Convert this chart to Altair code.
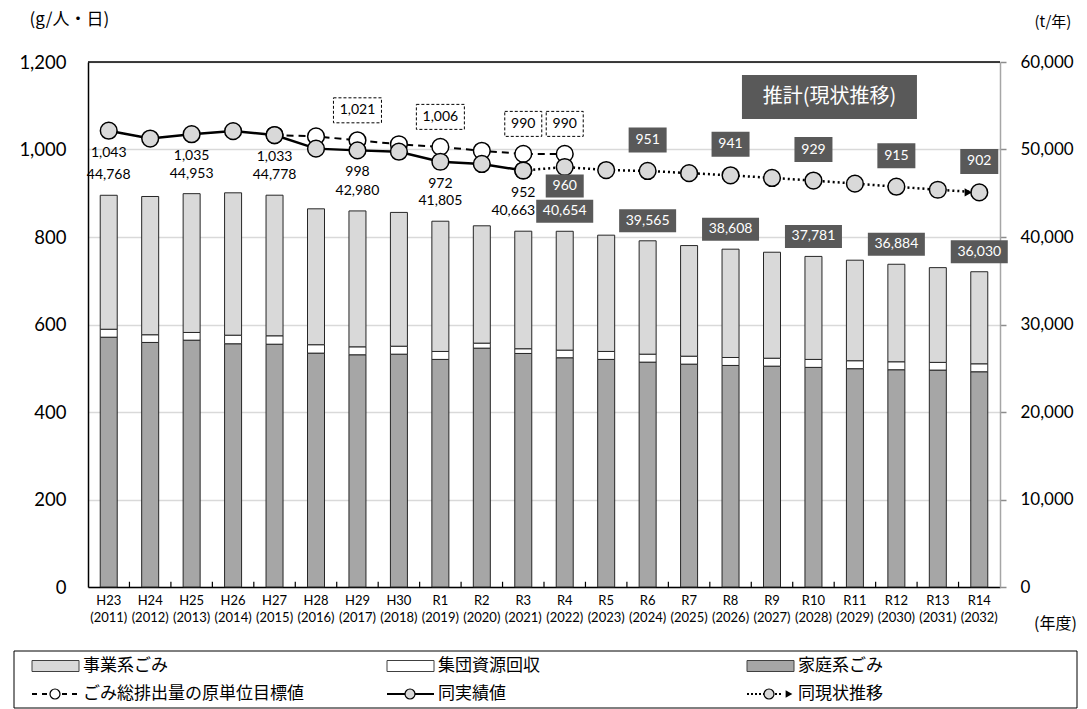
import altair as alt
import pandas as pd

# ---------------- data ----------------
years = ["H23", "H24", "H25", "H26", "H27", "H28", "H29", "H30", "R1", "R2", "R3",
         "R4", "R5", "R6", "R7", "R8", "R9", "R10", "R11", "R12", "R13", "R14"]
fiscal_years = [str(y) for y in range(2011, 2033)]

total_t = [44768, 44630, 44953, 45050, 44778, 43220, 42980, 42810, 41805, 41280, 40663,
           40654, 40210, 39565, 39020, 38608, 38260, 37781, 37350, 36884, 36500, 36030]
household_t = [28550, 27950, 28210, 27800, 27750, 26730, 26540, 26610, 26010, 27300, 26690,
               26200, 26010, 25700, 25470, 25320, 25240, 25100, 24950, 24830, 24790, 24600]
collection_t = [910, 880, 880, 980, 960, 960, 910, 910, 910, 570, 540,
                870, 910, 910, 910, 910, 910, 910, 910, 910, 880, 910]

actual_years = ["H23", "H24", "H25", "H26", "H27", "H28", "H29", "H30", "R1", "R2", "R3"]
actual_g = [1043, 1025, 1035, 1042, 1033, 1002, 998, 995, 972, 967, 952]

target_years = ["H27", "H28", "H29", "H30", "R1", "R2", "R3", "R4"]
target_g = [1033, 1030, 1021, 1012, 1006, 997, 990, 990]

proj_years = ["R3", "R4", "R5", "R6", "R7", "R8", "R9", "R10", "R11", "R12", "R13", "R14"]
proj_g = [952, 960, 953, 951, 946, 941, 935, 929, 922, 915, 908, 902]

actual_label_years = ["H23", "H25", "H27", "H29", "R1", "R3"]
actual_t_label_left = ["R3"]          # this tonnage label sits left of its bar
target_label_years = ["H29", "R1", "R3", "R4"]
proj_label_above = ["R6", "R8", "R10", "R12", "R14"]
proj_label_below = ["R4"]
proj_t_label_years = ["R4", "R6", "R8", "R10", "R12", "R14"]

kinds = ["家庭系ごみ", "集団資源回収", "事業系ごみ"]
kind_colors = ["#a6a6a6", "#ffffff", "#d9d9d9"]

annotation_text = "推計(現状推移)"
annotation_year = "R10"
annotation_g = 1120

legend_row1 = ["事業系ごみ", "集団資源回収", "家庭系ごみ"]
legend_row2 = ["ごみ総排出量の原単位目標値", "同実績値", "同現状推移"]

# ---------------- tables ----------------
cats = [f"{y} ({f})" for y, f in zip(years, fiscal_years)]
cat_of = dict(zip(years, cats))
tot_of = dict(zip(years, total_t))
business_t = [t - h - c for t, h, c in zip(total_t, household_t, collection_t)]

rows = []
for i, y in enumerate(years):
    for k, (kind, vals) in enumerate(zip(kinds, [household_t, collection_t, business_t])):
        rows.append({"cat": cat_of[y], "kind": kind, "t": vals[i], "ord": k})
bar_df = pd.DataFrame(rows)

actual_df = pd.DataFrame({"cat": [cat_of[y] for y in actual_years], "g": actual_g})
target_df = pd.DataFrame({"cat": [cat_of[y] for y in target_years], "g": target_g})
proj_df = pd.DataFrame({"cat": [cat_of[y] for y in proj_years], "g": proj_g})
act_of = dict(zip(actual_years, actual_g))
tgt_of = dict(zip(target_years, target_g))
prj_of = dict(zip(proj_years, proj_g))

act_lab = pd.DataFrame({
    "yr": actual_label_years,
    "cat": [cat_of[y] for y in actual_label_years],
    "g": [act_of[y] for y in actual_label_years],
    "t": [tot_of[y] for y in actual_label_years],
})
act_lab["gtxt"] = act_lab["g"].map(lambda v: f"{v:,}")
act_lab["ttxt"] = act_lab["t"].map(lambda v: f"{v:,}")
act_lab_c = act_lab[~act_lab["yr"].isin(actual_t_label_left)]
act_lab_l = act_lab[act_lab["yr"].isin(actual_t_label_left)]

tgt_lab = pd.DataFrame({
    "cat": [cat_of[y] for y in target_label_years],
    "g": [tgt_of[y] for y in target_label_years],
})
tgt_lab["gtxt"] = tgt_lab["g"].map(lambda v: f"{v:,}")
tgt_lab["wide"] = tgt_lab["g"] >= 1000

prj_above = pd.DataFrame({"cat": [cat_of[y] for y in proj_label_above],
                          "g": [prj_of[y] for y in proj_label_above]})
prj_below = pd.DataFrame({"cat": [cat_of[y] for y in proj_label_below],
                          "g": [prj_of[y] for y in proj_label_below]})
prj_t = pd.DataFrame({"cat": [cat_of[y] for y in proj_t_label_years],
                      "t": [tot_of[y] for y in proj_t_label_years]})
prj_t["ttxt"] = prj_t["t"].map(lambda v: f"{v:,}")

ann_df = pd.DataFrame({"cat": [cat_of[annotation_year]], "g": [annotation_g], "txt": [annotation_text]})
tick_df = pd.DataFrame({"cat": cats[1:], "g0": [0] * (len(cats) - 1), "g1": [12] * (len(cats) - 1)})
top_df = pd.DataFrame({"g": [1200]})

NUM_FONT = "Lato"
JP_FONT = "Noto Sans CJK JP"
DARK = "#595959"
W, H = 912, 525

# ---------------- encodings ----------------
x_axis = alt.Axis(
    title="(年度)", titleX=967, titleY=36, titleAngle=0, titleAlign="center",
    titleBaseline="middle", titleFont=JP_FONT, titleFontSize=16, titleFontWeight="normal",
    titleColor="black", labelExpr="split(datum.value, ' ')", labelAngle=0,
    labelFont=NUM_FONT, labelFontSize=13, labelColor="black", labelLineHeight=17,
    labelPadding=7, ticks=False, domainColor="black", domainWidth=1.5, grid=False,
)
x_scale = alt.Scale(domain=cats, paddingInner=0, paddingOuter=0)
X = alt.X("cat:N", scale=x_scale, axis=x_axis)

left_axis = alt.Axis(
    orient="left", title="(g/人・日)", titleAngle=0, titleX=-59, titleY=-43, titleAlign="left",
    titleBaseline="middle", titleFont=JP_FONT, titleFontSize=17, titleFontWeight="normal",
    titleColor="black", values=[0, 200, 400, 600, 800, 1000, 1200], format=",d",
    labelFont=NUM_FONT, labelFontSize=18.5, labelColor="black", labelPadding=22, ticks=False,
    domainColor="black", domainWidth=1.5, grid=True, gridColor="#d9d9d9", gridWidth=1.5,
)
g_scale = alt.Scale(domain=[0, 1200], nice=False, zero=True)
YL = alt.Y("g:Q", scale=g_scale, axis=left_axis)

right_axis = alt.Axis(
    orient="right", title="(t/年)", titleAngle=0, titleX=34, titleY=-41, titleAlign="left",
    titleBaseline="middle", titleFont=JP_FONT, titleFontSize=15, titleFontWeight="normal",
    titleColor="black", values=[0, 10000, 20000, 30000, 40000, 50000, 60000], format=",d",
    labelFont=NUM_FONT, labelFontSize=17, labelColor="black", labelPadding=14,
    tickSize=6, tickColor="#8c8c8c", tickWidth=1.5, domainColor="#a6a6a6", domainWidth=1.5,
    grid=False,
)
t_scale = alt.Scale(domain=[0, 60000], nice=False, zero=True)
YR = alt.Y("t:Q", scale=t_scale, axis=right_axis)

# ---------------- right (t/year) layers ----------------
bars = alt.Chart(bar_df).mark_bar(size=17, stroke="#262626", strokeWidth=1).encode(
    x=X,
    y=alt.Y("t:Q", stack="zero", scale=t_scale, axis=right_axis),
    color=alt.Color("kind:N", scale=alt.Scale(domain=kinds, range=kind_colors), legend=None),
    order=alt.Order("ord:Q"),
)
act_t_text = alt.Chart(act_lab_c).mark_text(
    font=NUM_FONT, fontSize=14, color="black", dy=-20, baseline="middle"
).encode(x=X, y=YR, text="ttxt:N")
act_t_text_l = alt.Chart(act_lab_l).mark_text(
    font=NUM_FONT, fontSize=14, color="black", dy=-20, dx=-10, baseline="middle"
).encode(x=X, y=YR, text="ttxt:N")
prj_t_box = alt.Chart(prj_t).mark_rect(width=57, height=23, yOffset=-20, fill=DARK).encode(x=X, y=YR)
prj_t_text = alt.Chart(prj_t).mark_text(
    font=NUM_FONT, fontSize=14, color="white", dy=-20, baseline="middle"
).encode(x=X, y=YR, text="ttxt:N")

right_layer = alt.layer(bars, act_t_text, act_t_text_l, prj_t_box, prj_t_text)

# ---------------- left (g/person/day) layers ----------------
xticks = alt.Chart(tick_df).mark_rule(color="black", strokeWidth=1.2).encode(
    x=alt.X("cat:N", scale=x_scale, axis=x_axis, bandPosition=0),
    y=alt.Y("g0:Q", scale=g_scale, axis=left_axis), y2="g1:Q",
)
top_rule = alt.Chart(top_df).mark_rule(color="black", strokeWidth=1.5).encode(
    y=YL, x=alt.value(0), x2=alt.value(W)
)
target_line = alt.Chart(target_df).mark_line(
    color="black", strokeWidth=2, strokeDash=[7, 5]).encode(x=X, y=YL)
actual_line = alt.Chart(actual_df).mark_line(color="black", strokeWidth=2.5).encode(x=X, y=YL)
proj_line = alt.Chart(proj_df).mark_line(
    color="black", strokeWidth=2.5, strokeDash=[2, 3]).encode(x=X, y=YL)

PT = 280
target_pts = alt.Chart(target_df).mark_point(
    shape="circle", size=PT, filled=True, fill="white", stroke="black", strokeWidth=1.5, opacity=1
).encode(x=X, y=YL)
actual_pts = alt.Chart(actual_df).mark_point(
    shape="circle", size=PT, filled=True, fill="#d9d9d9", stroke="black", strokeWidth=1.5, opacity=1
).encode(x=X, y=YL)
proj_pts = alt.Chart(proj_df).mark_point(
    shape="circle", size=PT, filled=True, fill="#d9d9d9", stroke="black", strokeWidth=1.5, opacity=1
).encode(x=X, y=YL)
arrow = alt.Chart(proj_df.tail(1)).mark_point(
    shape="triangle-right", size=70, filled=True, color="black", xOffset=-11, opacity=1
).encode(x=X, y=YL)

act_g_text = alt.Chart(act_lab).mark_text(
    font=NUM_FONT, fontSize=14, color="black", dy=22, baseline="middle"
).encode(x=X, y=YL, text="gtxt:N")

tgt_box_wide = alt.Chart(tgt_lab[tgt_lab["wide"]]).mark_rect(
    width=48, height=25, yOffset=-30, fill="white", stroke="black", strokeWidth=1, strokeDash=[3, 2]
).encode(x=X, y=YL)
tgt_box_narrow = alt.Chart(tgt_lab[~tgt_lab["wide"]]).mark_rect(
    width=37, height=25, yOffset=-30, fill="white", stroke="black", strokeWidth=1, strokeDash=[3, 2]
).encode(x=X, y=YL)
tgt_text = alt.Chart(tgt_lab).mark_text(
    font=NUM_FONT, fontSize=14, color="black", dy=-30, baseline="middle"
).encode(x=X, y=YL, text="gtxt:N")

prj_box_above = alt.Chart(prj_above).mark_rect(width=38, height=25, yOffset=-31, fill=DARK).encode(x=X, y=YL)
prj_text_above = alt.Chart(prj_above).mark_text(
    font=NUM_FONT, fontSize=14, color="white", dy=-31, baseline="middle"
).encode(x=X, y=YL, text="g:Q")
prj_box_below = alt.Chart(prj_below).mark_rect(width=38, height=23, yOffset=19, fill=DARK).encode(x=X, y=YL)
prj_text_below = alt.Chart(prj_below).mark_text(
    font=NUM_FONT, fontSize=14, color="white", dy=19, baseline="middle"
).encode(x=X, y=YL, text="g:Q")

ann_box = alt.Chart(ann_df).mark_rect(width=175, height=44, xOffset=16, fill=DARK).encode(x=X, y=YL)
ann_text = alt.Chart(ann_df).mark_text(
    font=JP_FONT, fontSize=20, color="white", dx=16, baseline="middle"
).encode(x=X, y=YL, text="txt:N")

left_layer = alt.layer(
    xticks, top_rule, target_line, actual_line, proj_line,
    target_pts, actual_pts, proj_pts, arrow,
    act_g_text, tgt_box_wide, tgt_box_narrow, tgt_text,
    prj_box_above, prj_text_above, prj_box_below, prj_text_below,
    ann_box, ann_text,
)

main = alt.layer(right_layer, left_layer).resolve_scale(y="independent").properties(
    width=W, height=H, view=alt.ViewBackground(stroke="transparent")
)

# ---------------- legend panel (layout in px relative to plot origin) ----------------
LH = 57
box_x = [-74, 989]
col_x = [-56, 299, 659]
row_y = [15, 43]

lx = alt.Scale(domain=[0, W], range=[0, W], nice=False, zero=False)
ly = alt.Scale(domain=[0, LH], range=[0, LH], nice=False, zero=False)
LX = alt.X("x:Q", scale=lx, axis=None)
LY = alt.Y("y:Q", scale=ly, axis=None)

box_df = pd.DataFrame({"x": [box_x[0]], "x2": [box_x[1]], "y": [0], "y2": [LH]})
leg_box = alt.Chart(box_df).mark_rect(fill="white", stroke="black", strokeWidth=1).encode(
    x=LX, x2="x2:Q", y=LY, y2="y2:Q")

sw_df = pd.DataFrame({"x": col_x, "kind": legend_row1})
sw_df["x2"] = sw_df["x"] + 47
sw_df["y"] = row_y[0] - 5.5
sw_df["y2"] = row_y[0] + 5.5
leg_sw = alt.Chart(sw_df).mark_rect(stroke="#404040", strokeWidth=1).encode(
    x=LX, x2="x2:Q", y=LY, y2="y2:Q",
    color=alt.Color("kind:N", scale=alt.Scale(domain=kinds, range=kind_colors), legend=None),
)
txt_df = pd.DataFrame({
    "x": [c + 51 for c in col_x] * 2,
    "y": [row_y[0]] * 3 + [row_y[1]] * 3,
    "label": legend_row1 + legend_row2,
})
leg_txt = alt.Chart(txt_df).mark_text(
    font=JP_FONT, fontSize=17, color="black", align="left", baseline="middle"
).encode(x=LX, y=LY, text="label:N")


def leg_line(x0, x1, dash, width):
    d = pd.DataFrame({"x": [x0], "x2": [x1], "y": [row_y[1]]})
    kw = dict(color="black", strokeWidth=width)
    if dash:
        kw["strokeDash"] = dash
    return alt.Chart(d).mark_rule(**kw).encode(x=LX, x2="x2:Q", y=LY)


def leg_pt(xc, fill, shape="circle", size=100):
    d = pd.DataFrame({"x": [xc], "y": [row_y[1]]})
    return alt.Chart(d).mark_point(
        shape=shape, size=size, filled=True, fill=fill, stroke="black",
        strokeWidth=1.2 if shape == "circle" else 0, opacity=1
    ).encode(x=LX, y=LY)


legend_panel = alt.layer(
    leg_box, leg_sw, leg_txt,
    leg_line(col_x[0], col_x[0] + 47, [5, 5], 1.8), leg_pt(col_x[0] + 23, "white"),
    leg_line(col_x[1], col_x[1] + 47, None, 2), leg_pt(col_x[1] + 23, "#d9d9d9"),
    leg_line(col_x[2], col_x[2] + 36, [2, 2], 2), leg_pt(col_x[2] + 22, "#d9d9d9"),
    leg_pt(col_x[2] + 42, "black", shape="triangle-right", size=60),
).properties(width=W, height=LH, view=alt.ViewBackground(stroke="transparent"))

chart = alt.vconcat(main, legend_panel, spacing=18).properties(
    padding={"left": 13, "top": 9, "right": 2, "bottom": 2}
)

chart.save("out.html", embed_options={"renderer": "svg", "actions": False})
